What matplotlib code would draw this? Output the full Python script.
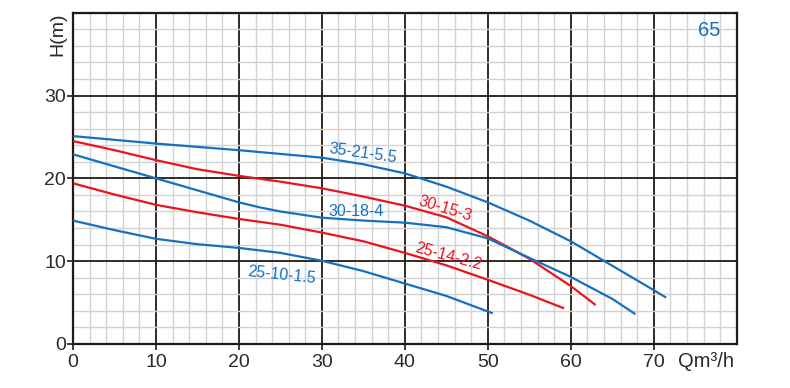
import matplotlib
matplotlib.use("Agg")
import matplotlib.pyplot as plt
from matplotlib.ticker import MultipleLocator

plt.rcParams['font.family'] = ['Liberation Sans', 'DejaVu Sans']

# ---- data ----
q_35_21 = [0, 10, 20, 30, 35, 40, 45, 50, 55, 60, 65, 70, 71.5]
h_35_21 = [25.1, 24.2, 23.4, 22.5, 21.7, 20.6, 19.0, 17.1, 14.9, 12.4, 9.45, 6.5, 5.6]

q_30_15 = [0, 5, 10, 15, 20, 25, 30, 35, 40, 45, 50, 55, 60, 63]
h_30_15 = [24.5, 23.4, 22.2, 21.1, 20.3, 19.6, 18.8, 17.8, 16.7, 15.3, 13.0, 10.3, 7.0, 4.7]

q_30_18 = [0, 5, 10, 15, 20, 22.5, 25, 30, 35, 40, 45, 50, 55, 60, 65, 67.8]
h_30_18 = [22.9, 21.45, 20.0, 18.55, 17.1, 16.5, 16.0, 15.25, 14.9, 14.65, 14.1, 12.75, 10.4, 8.1, 5.45, 3.6]

q_25_14 = [0, 5, 10, 15, 20, 25, 30, 35, 40, 45, 50, 55, 59.2]
h_25_14 = [19.4, 18.05, 16.8, 15.9, 15.1, 14.4, 13.45, 12.4, 11.0, 9.5, 7.75, 5.95, 4.3]

q_25_10 = [0, 5, 10, 15, 20, 25, 30, 35, 40, 45, 50.6]
h_25_10 = [14.9, 13.75, 12.7, 12.05, 11.6, 11.0, 10.05, 8.8, 7.3, 5.8, 3.7]

x_ticks = [0, 10, 20, 30, 40, 50, 60, 70]
y_ticks = [0, 10, 20, 30]

labels = ["35-21-5.5", "30-15-3", "30-18-4", "25-14-2.2", "25-10-1.5"]
label_pos = [(34.9, 23.0), (44.9, 16.3), (34.1, 16.0), (45.2, 10.6), (25.1, 8.3)]
label_rot = [-8, -17, 0, -15, -6]

BLUE = '#1570c0'
RED = '#e8141e'
DARK = '#231815'

series = [(q_35_21, h_35_21, BLUE), (q_30_15, h_30_15, RED), (q_30_18, h_30_18, BLUE),
          (q_25_14, h_25_14, RED), (q_25_10, h_25_10, BLUE)]
label_colors = [BLUE, RED, BLUE, RED, BLUE]

fig = plt.figure(figsize=(7.9, 3.88), dpi=100)
ax = fig.add_axes([73/790, 1-344/388, (736.7-73)/790, (344-12.7)/388])

ax.set_xlim(0, 80)
ax.set_ylim(0, 40)
ax.xaxis.set_minor_locator(MultipleLocator(2))
ax.yaxis.set_minor_locator(MultipleLocator(2))

ax.grid(which='minor', color='#d2d2d2', lw=1.0, zorder=0)
ax.grid(which='major', color=DARK, lw=1.3, zorder=1)
ax.set_axisbelow(True)

for s in ax.spines.values():
    s.set_color(DARK)
    s.set_linewidth(1.6)

ax.set_xticks(x_ticks)
ax.set_yticks(y_ticks)
ax.set_xticklabels([str(v) for v in x_ticks])
ax.set_yticklabels([str(v) for v in y_ticks])
ax.tick_params(which='major', direction='out', length=4, width=1.2, color=DARK,
               labelsize=14, labelcolor='#2a2a2a')
ax.tick_params(axis='y', pad=1)
ax.tick_params(axis='x', pad=3)
ax.tick_params(which='minor', length=0)

for q, h, c in series:
    ax.plot(q, h, color=c, lw=1.6, zorder=3, solid_capstyle='butt', solid_joinstyle='round')

for t, (x, y), r, c in zip(labels, label_pos, label_rot, label_colors):
    ax.text(x, y, t, color=c, fontsize=11.5, rotation=r, ha='center', va='center',
            rotation_mode='anchor', zorder=4)

ax.text(76.7, 37.9, "65", color=BLUE, fontsize=14.5, ha='center', va='center', zorder=4)

ax.text(-0.0234, 0.934, "H(m)", transform=ax.transAxes, rotation=90, fontsize=14,
        color='#2a2a2a', ha='center', va='center')
ax.text(0.954, -0.053, "Qm³/h", transform=ax.transAxes, fontsize=14.5,
        color='#2a2a2a', ha='center', va='center')

fig.savefig("out.png", dpi=100)
